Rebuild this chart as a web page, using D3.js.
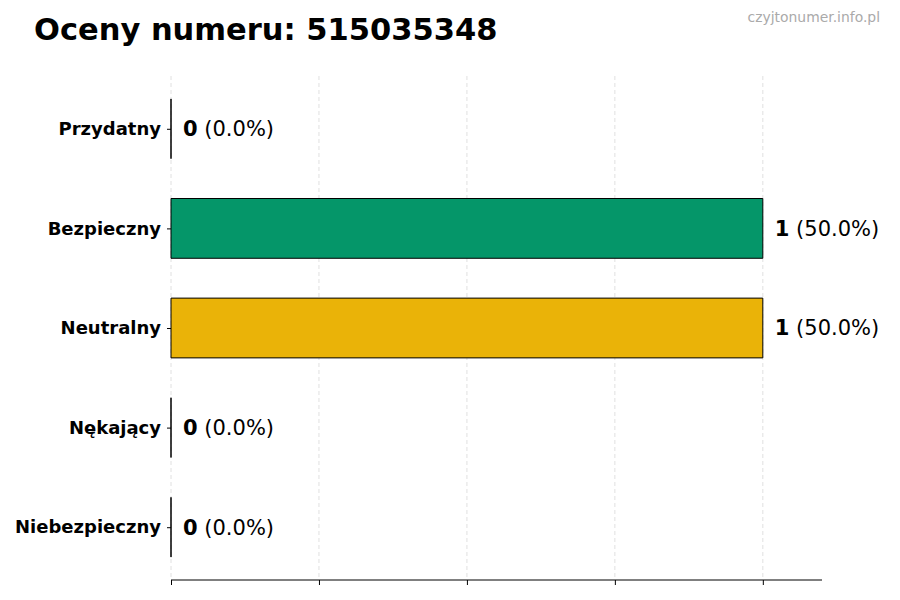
<!DOCTYPE html>
<html>
<head>
<meta charset="utf-8">
<script src="https://cdn.jsdelivr.net/npm/d3@7"></script>
<style>
  body { margin: 0; background: #fff; }
  svg { font-family: 'DejaVu Sans', sans-serif; }
</style>
</head>
<body>
<svg id="chart"></svg>
<script>
const categories = ['Przydatny', 'Bezpieczny', 'Neutralny', 'Nękający', 'Niebezpieczny'];
const counts = [0, 1, 1, 0, 0];
const percents = ['0.0%', '50.0%', '50.0%', '0.0%', '0.0%'];
const barColors = ['#2563EB', '#059669', '#EAB308', '#EA580C', '#DC2626'];
const xTicks = [0, 0.25, 0.5, 0.75, 1.0];

const WIDTH = 900;
const HEIGHT = 600;
const PLOT = { LEFT: 171, RIGHT: 822, TOP: 76, BOTTOM: 580 };

const svg = d3.select('#chart').attr('width', WIDTH).attr('height', HEIGHT);

const x = d3.scaleLinear([0, 1.1], [PLOT.LEFT, PLOT.RIGHT]);
const y = d3.scaleLinear([-0.53, 4.53], [PLOT.TOP, PLOT.BOTTOM]);
const barHalf = (y(0.3) - y(0));

// title and watermark
svg.append('text')
  .attr('x', 34).attr('y', 40)
  .attr('font-size', 30.5).attr('font-weight', 'bold')
  .text('Oceny numeru: 515035348');

svg.append('text')
  .attr('x', 880).attr('y', 22)
  .attr('text-anchor', 'end')
  .attr('font-size', 13.9).attr('fill', '#aaaaaa')
  .text('czyjtonumer.info.pl');

// grid
svg.append('g')
  .selectAll('line')
  .data(xTicks)
  .join('line')
  .attr('x1', (d) => x(d)).attr('x2', (d) => x(d))
  .attr('y1', PLOT.TOP).attr('y2', PLOT.BOTTOM)
  .attr('stroke', '#d8d8d8').attr('stroke-width', 0.8)
  .attr('stroke-dasharray', '4,3');

// bars (paths so zero-width bars still show their edge)
const data = categories.map((c, i) => ({ name: c, value: counts[i], pct: percents[i], color: barColors[i], i }));

svg.append('g')
  .selectAll('path')
  .data(data)
  .join('path')
  .attr('d', (d) => {
    const x0 = x(0), x1 = x(d.value), y0 = y(d.i) - barHalf, y1 = y(d.i) + barHalf;
    return `M${x0},${y0}H${x1}V${y1}H${x0}Z`;
  })
  .attr('fill', (d) => d.color)
  .attr('stroke', '#000').attr('stroke-width', 1);

// value labels
const labels = svg.append('g')
  .selectAll('text')
  .data(data)
  .join('text')
  .attr('x', (d) => x(d.value) + 12)
  .attr('y', (d) => y(d.i))
  .attr('dy', '0.35em')
  .attr('font-size', 21);
labels.append('tspan').attr('font-weight', 'bold').text((d) => d.value);
labels.append('tspan').text((d) => ` (${d.pct})`);

// x axis
const xAxis = d3.axisBottom(x).tickValues(xTicks).tickFormat('').tickSize(5);
const gx = svg.append('g').attr('transform', `translate(0,${PLOT.BOTTOM})`).call(xAxis);
gx.select('.domain').attr('d', `M${PLOT.LEFT},0H${PLOT.RIGHT}`).attr('stroke', '#000');

// y axis (no spine)
const yAxis = d3.axisLeft(y).tickValues(d3.range(categories.length)).tickFormat((i) => categories[i]).tickSize(4).tickPadding(6);
const gy = svg.append('g').attr('transform', `translate(${PLOT.LEFT},0)`).call(yAxis);
gy.select('.domain').remove();
gy.selectAll('text')
  .attr('font-family', "'DejaVu Sans', sans-serif")
  .attr('font-size', 18).attr('font-weight', 'bold').attr('fill', '#000');
</script>
</body>
</html>
